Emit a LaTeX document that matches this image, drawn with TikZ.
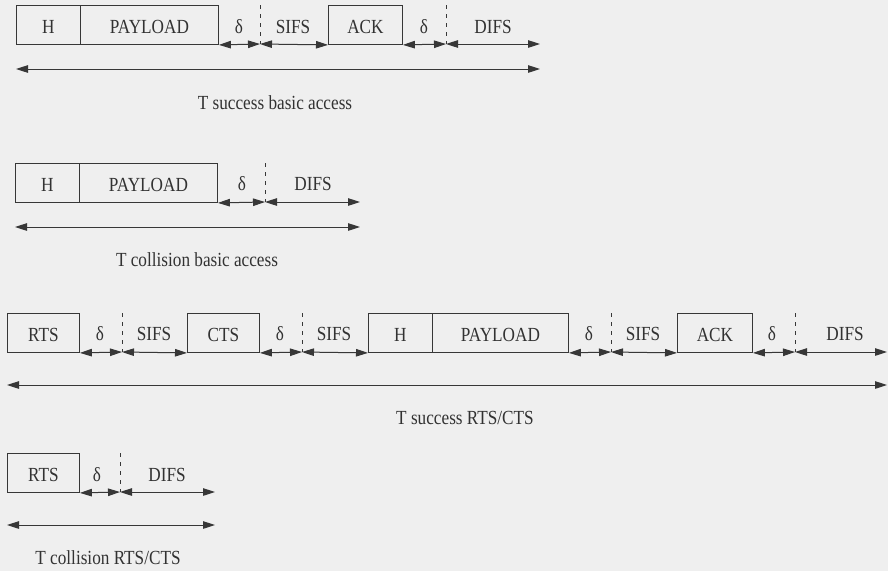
\documentclass[tikz,border=0pt]{standalone}
\usepackage{fontspec}
\setmainfont[FakeStretch=0.86]{Liberation Serif}
\usetikzlibrary{arrows.meta}
\definecolor{bg}{RGB}{239,239,239}
\definecolor{ink}{RGB}{55,55,55}
\definecolor{txt}{RGB}{50,50,50}
\begin{document}
\begin{tikzpicture}[x=1pt,y=-1pt,
  every node/.style={font=\fontsize{20}{22}\selectfont, text=txt},
  frame/.style={draw=ink, line width=0.9pt, inner sep=0pt, minimum height=39pt, anchor=north west, text height=17pt, text depth=0pt},
  tick/.style={draw=ink, line width=0.6pt, dash pattern=on 4pt off 5pt},
  span/.style={draw=ink, line width=1pt, {Triangle[length=12pt,width=7.5pt]}-{Triangle[length=12pt,width=7.5pt]}},
  lbl/.style={inner sep=0pt}]
\fill[bg] (0,0) rectangle (888,571);
\useasboundingbox (0,0) rectangle (888,571);

% ---------- Row 1: T success basic access ----------
\node[frame, minimum width=64pt] (H1) at (16,5) {H};
\node[frame, minimum width=138pt] (P1) at (80,5) {PAYLOAD};
\node[frame, minimum width=74pt] (A1) at (328,5) {ACK};
\coordinate (t1a) at (260,5);  \coordinate (t1) at (260,44);
\coordinate (t2a) at (446,5);  \coordinate (t2) at (446,44);
\coordinate (e1) at (540,44);
\draw[tick] (t1a) -- (t1);
\draw[tick] (t2a) -- (t2);
\draw[span] (P1.south east) -- (t1);
\draw[span] (t1) -- (A1.south west);
\draw[span] (A1.south east) -- (t2);
\draw[span] (t2) -- (e1);
\node[lbl] (d11) at (239,27) {δ};
\node[lbl] (s11) at (293,27) {SIFS};
\node[lbl] (d12) at (424,27) {δ};
\node[lbl] (f11) at (493,27) {DIFS};
\coordinate (L1a) at (16,69); \coordinate (L1b) at (540,69);
\draw[span] (L1a) -- (L1b);
\node[lbl] (c1) at (275,103) {T success basic access};

% ---------- Row 2: T collision basic access ----------
\node[frame, minimum width=64pt] (H2) at (15,163) {H};
\node[frame, minimum width=138pt] (P2) at (79,163) {PAYLOAD};
\coordinate (t3a) at (265,163); \coordinate (t3) at (265,202);
\coordinate (e2) at (360,202);
\draw[tick] (t3a) -- (t3);
\draw[span] (P2.south east) -- (t3);
\draw[span] (t3) -- (e2);
\node[lbl] (d21) at (242,184) {δ};
\node[lbl] (f21) at (313,184) {DIFS};
\coordinate (L2a) at (15,227); \coordinate (L2b) at (360,227);
\draw[span] (L2a) -- (L2b);
\node[lbl] (c2) at (197,260) {T collision basic access};

% ---------- Row 3: T success RTS/CTS ----------
\node[frame, minimum width=72pt] (R3) at (7,313) {RTS};
\node[frame, minimum width=72pt] (C3) at (187,313) {CTS};
\node[frame, minimum width=64pt] (H3) at (368,313) {H};
\node[frame, minimum width=136pt] (P3) at (432,313) {PAYLOAD};
\node[frame, minimum width=75pt] (A3) at (677,313) {ACK};
\coordinate (u1a) at (122,313); \coordinate (u1) at (122,352);
\coordinate (u2a) at (302,313); \coordinate (u2) at (302,352);
\coordinate (u3a) at (611,313); \coordinate (u3) at (611,352);
\coordinate (u4a) at (795,313); \coordinate (u4) at (795,352);
\coordinate (e3) at (887,352);
\draw[tick] (u1a) -- (u1);
\draw[tick] (u2a) -- (u2);
\draw[tick] (u3a) -- (u3);
\draw[tick] (u4a) -- (u4);
\draw[span] (R3.south east) -- (u1);
\draw[span] (u1) -- (C3.south west);
\draw[span] (C3.south east) -- (u2);
\draw[span] (u2) -- (H3.south west);
\draw[span] (P3.south east) -- (u3);
\draw[span] (u3) -- (A3.south west);
\draw[span] (A3.south east) -- (u4);
\draw[span] (u4) -- (e3);
\node[lbl] (d31) at (100,334) {δ};
\node[lbl] (s31) at (154,334) {SIFS};
\node[lbl] (d32) at (280,334) {δ};
\node[lbl] (s32) at (334,334) {SIFS};
\node[lbl] (d33) at (589,334) {δ};
\node[lbl] (s33) at (643,334) {SIFS};
\node[lbl] (d34) at (772,334) {δ};
\node[lbl] (f31) at (845,334) {DIFS};
\coordinate (L3a) at (7,385); \coordinate (L3b) at (887,385);
\draw[span] (L3a) -- (L3b);
\node[lbl] (c3) at (465,418) {T success RTS/CTS};

% ---------- Row 4: T collision RTS/CTS ----------
\node[frame, minimum width=72pt] (R4) at (7,453) {RTS};
\coordinate (v1a) at (120,453); \coordinate (v1) at (120,492);
\coordinate (e4) at (215,492);
\draw[tick] (v1a) -- (v1);
\draw[span] (R4.south east) -- (v1);
\draw[span] (v1) -- (e4);
\node[lbl] (d41) at (97,475) {δ};
\node[lbl] (f41) at (167,475) {DIFS};
\coordinate (L4a) at (7,525); \coordinate (L4b) at (215,525);
\draw[span] (L4a) -- (L4b);
\node[lbl] (c4) at (108,558) {T collision RTS/CTS};
\end{tikzpicture}
\end{document}
